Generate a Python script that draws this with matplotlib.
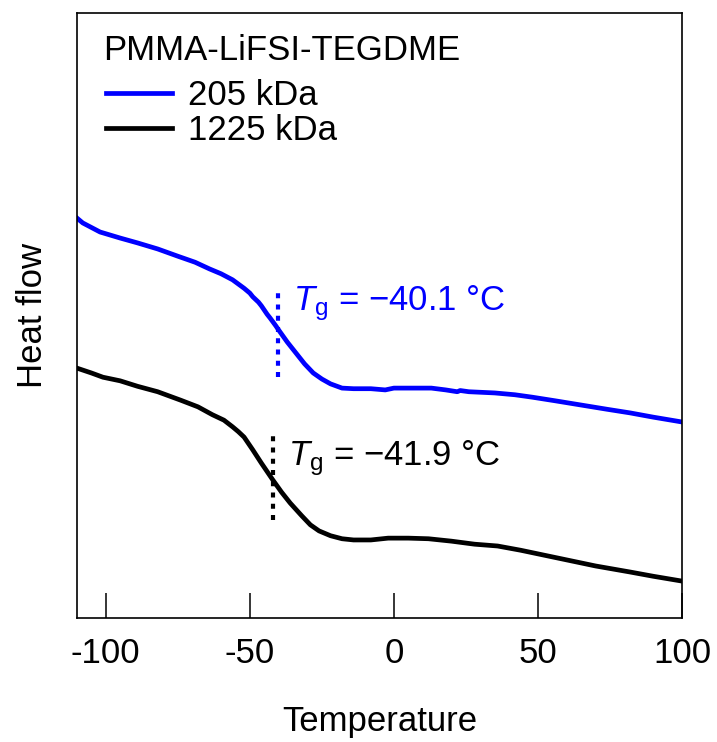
#!/usr/bin/env python3
import matplotlib
matplotlib.use("Agg")
import matplotlib.pyplot as plt

plt.rcParams['font.family'] = ['Liberation Sans', 'DejaVu Sans']
plt.rcParams['mathtext.fontset'] = 'custom'
plt.rcParams['mathtext.rm'] = 'Liberation Sans'
plt.rcParams['mathtext.it'] = 'Liberation Sans:italic'

# DSC traces (heat flow in arbitrary units)
temp_205 = [-110, -108, -106, -102, -95, -89, -82, -75, -69, -64, -60, -58, -56, -54, -52,
            -50, -49, -47, -46, -44, -43, -41, -40, -37, -34, -31, -28, -25, -22, -18,
            -14, -8, -3, -1, 0, 6, 13, 18, 22, 23, 26, 35, 42, 48, 56, 65, 74, 82, 90, 100]
flow_205 = [6.61, 6.53, 6.48, 6.38, 6.28, 6.20, 6.10, 5.98, 5.88, 5.77, 5.69, 5.64, 5.59, 5.52, 5.45,
            5.37, 5.31, 5.22, 5.16, 5.02, 4.96, 4.83, 4.76, 4.56, 4.38, 4.20, 4.05, 3.95, 3.87, 3.80,
            3.79, 3.79, 3.77, 3.79, 3.80, 3.80, 3.80, 3.77, 3.74, 3.76, 3.74, 3.72, 3.69, 3.65, 3.59,
            3.52, 3.45, 3.39, 3.32, 3.24]

temp_1225 = [-110, -105, -101, -95, -89, -82, -74, -68, -63, -59, -56, -54, -52, -49, -46,
             -44, -42, -39, -36, -32, -29, -26, -22, -18, -14, -8, -2, 5, 12, 20, 28, 36,
             44, 52, 60, 70, 82, 90, 100]
flow_1225 = [4.13, 4.05, 3.98, 3.92, 3.83, 3.74, 3.60, 3.49, 3.36, 3.27, 3.16, 3.08, 2.99, 2.78, 2.56,
             2.42, 2.28, 2.08, 1.90, 1.69, 1.54, 1.44, 1.36, 1.31, 1.29, 1.29, 1.32, 1.32, 1.31, 1.27,
             1.22, 1.19, 1.12, 1.04, 0.96, 0.86, 0.76, 0.69, 0.61]

tg_values = [-40.1, -41.9]
tg_span = [(3.98, 5.42), (1.62, 3.07)]
tg_text_pos = [(-35.0, 5.09), (-36.7, 2.53)]
colors = ["#0000ff", "#000000"]
labels = ["205 kDa", "1225 kDa"]
xticks = [-100, -50, 0, 50, 100]


def main():
    fig = plt.figure(figsize=(7.17, 7.42), dpi=100)
    ax = fig.add_axes([77 / 717, 1 - 618 / 742, 605 / 717, 605 / 742])

    ax.plot(temp_205, flow_205, color=colors[0], lw=3.4, label=labels[0],
            solid_joinstyle="round")
    ax.plot(temp_1225, flow_1225, color=colors[1], lw=3.4, label=labels[1],
            solid_joinstyle="round")

    for tg, (y0, y1), (tx, ty), c in zip(tg_values, tg_span, tg_text_pos, colors):
        ax.plot([tg, tg], [y0, y1], color=c, lw=3, dashes=(1.2, 1.5))
        ax.text(tx, ty, r"$T_\mathrm{g}$ = −%.1f °C" % abs(tg), color=c,
                fontsize=25, ha="left", va="baseline")

    ax.set_xlim(-110, 100)
    ax.set_ylim(0, 10)
    ax.set_xticks(xticks)
    ax.set_xticklabels([str(t) for t in xticks])
    ax.set_yticks([])
    ax.tick_params(axis="x", direction="in", length=18, width=1.1, pad=14,
                   labelsize=25, top=False)
    for sp in ax.spines.values():
        sp.set_linewidth(1.2)

    ax.set_xlabel("Temperature", fontsize=25, labelpad=25)
    ax.set_ylabel("Heat flow", fontsize=25, labelpad=20)

    ax.text((103 - 77) / 605, (618 - 51) / 605, "PMMA-LiFSI-TEGDME", transform=ax.transAxes,
            fontsize=25, ha="left", va="center")
    ax.legend(loc="upper left", bbox_to_anchor=((106 - 77) / 605, (618 - 79) / 605),
              frameon=False, fontsize=25, handlelength=1.9, handletextpad=0.45,
              labelspacing=0.06, borderpad=0, borderaxespad=0)

    fig.savefig("out.png", dpi=100)
    plt.close(fig)


if __name__ == "__main__":
    main()
